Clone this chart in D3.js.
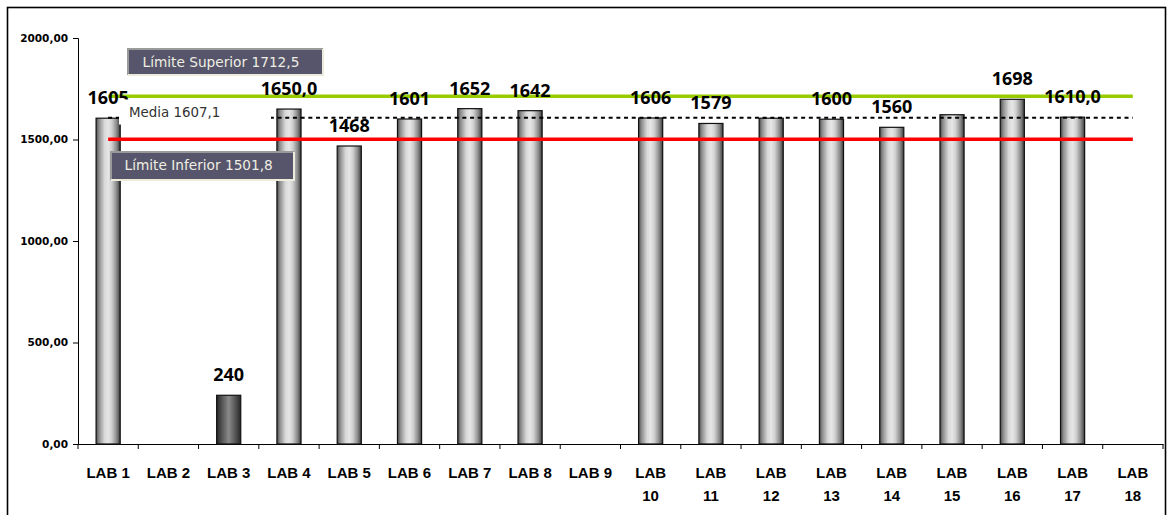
<!DOCTYPE html>
<html>
<head>
<meta charset="utf-8">
<script src="https://cdn.jsdelivr.net/npm/d3@7"></script>
<style>
  html, body { margin: 0; padding: 0; background: #fff; }
  svg { display: block; }
</style>
</head>
<body>
<svg id="chart" width="1173" height="515"></svg>
<script>
// Laboratory results with reference limits
const categories = ["LAB 1", "LAB 2", "LAB 3", "LAB 4", "LAB 5", "LAB 6", "LAB 7", "LAB 8", "LAB 9",
  "LAB 10", "LAB 11", "LAB 12", "LAB 13", "LAB 14", "LAB 15", "LAB 16", "LAB 17", "LAB 18"];
const values = [1605, null, 240, 1650, 1468, 1601, 1652, 1642, null,
  1606, 1579, 1605, 1600, 1560, 1622, 1698, 1610, null];
const valueLabels = ["1605", null, "240", "1650,0", "1468", "1601", "1652", "1642", null,
  "1606", "1579", null, "1600", "1560", null, "1698", "1610,0", null];
const outlierLabs = ["LAB 3"];

const upperLimit = 1712.5;
const lowerLimit = 1501.8;
const mean = 1607.1;
const upperText = ["Límite Superior 1712,5"];
const lowerText = ["Límite Inferior 1501,8"];
const meanText = ["Media 1607,1"];

const yTicks = [0, 500, 1000, 1500, 2000];
const yDomain = [0, 2000];

const svg = d3.select("#chart");

// outer frame
svg.append("rect")
  .attr("x", 7.5).attr("y", 7.5)
  .attr("width", 1158).attr("height", 520)
  .attr("fill", "none").attr("stroke", "#000").attr("stroke-width", 1.6);

const x = d3.scaleBand().domain(categories).range([78, 1163]).paddingInner(0).paddingOuter(0);
const y = d3.scaleLinear().domain(yDomain).range([444, 38]);

const loc = d3.formatLocale({ decimal: ",", thousands: "", grouping: [3], currency: ["", ""] });
const fmt = loc.format(".2f");

// gradients for the cylinders
const defs = svg.append("defs");
function grad(id, stops) {
  const g = defs.append("linearGradient").attr("id", id)
    .attr("x1", "0%").attr("x2", "100%").attr("y1", "0%").attr("y2", "0%");
  stops.forEach(s => g.append("stop").attr("offset", s[0]).attr("stop-color", s[1]));
}
grad("barLight", [[0, "#4a4a4a"], [0.12, "#8c8c8c"], [0.35, "#d8d8d8"], [0.5, "#e6e6e6"],
  [0.65, "#d0d0d0"], [0.85, "#8a8a8a"], [1, "#3c3c3c"]]);
grad("barDark", [[0, "#262626"], [0.2, "#505050"], [0.5, "#8a8a8a"], [0.8, "#505050"], [1, "#262626"]]);

// y axis
const yAxis = d3.axisLeft(y).tickValues(yTicks).tickSize(5).tickPadding(5).tickFormat(d => fmt(d));
const gy = svg.append("g").attr("transform", "translate(78,0)").call(yAxis);
gy.select(".domain").attr("stroke", "#000");
gy.selectAll(".tick line").attr("stroke", "#000");
gy.selectAll(".tick text")
  .attr("font-family", "DejaVu Sans").attr("font-weight", "bold")
  .attr("font-size", "10.5px").attr("fill", "#000");

// x axis
const xAxis = d3.axisBottom(x).tickSize(0).tickPadding(0).tickFormat("");
const gx = svg.append("g").attr("transform", "translate(0,444)").call(xAxis);
gx.select(".domain").attr("stroke", "#000");
const boundaries = categories.map(c => x(c)).concat([x.range()[1]]);
gx.selectAll(".bound").data(boundaries).join("line")
  .attr("class", "bound")
  .attr("x1", d => d).attr("x2", d => d)
  .attr("y1", 0).attr("y2", 5)
  .attr("stroke", "#000");

// category labels, wrapped when too long for one line
const catG = svg.append("g");
categories.forEach(c => {
  const cx = x(c) + x.bandwidth() / 2;
  const lines = c.length > 5 ? c.split(" ") : [c];
  const t = catG.append("text")
    .attr("x", cx).attr("y", 478)
    .attr("text-anchor", "middle")
    .attr("font-family", "Liberation Sans, Arial, sans-serif")
    .attr("font-weight", "bold").attr("font-size", "15px").attr("fill", "#000");
  lines.forEach((ln, i) => {
    t.append("tspan").attr("x", cx).attr("dy", i === 0 ? 0 : 23).text(ln);
  });
});

// bars
const barW = x.bandwidth() * 0.4;
const barData = categories.map((c, i) => ({ c, v: values[i], label: valueLabels[i] }))
  .filter(d => d.v != null);

svg.append("g").selectAll("rect").data(barData).join("rect")
  .attr("x", d => x(d.c) + x.bandwidth() / 2 - barW / 2)
  .attr("y", d => y(d.v))
  .attr("width", barW)
  .attr("height", d => y(0) - y(d.v))
  .attr("fill", d => outlierLabs.includes(d.c) ? "url(#barDark)" : "url(#barLight)")
  .attr("stroke", "#111").attr("stroke-width", 1.2);

// reference lines from the first to the last category
const xStart = x(categories[0]) + x.bandwidth() / 2;
const xEnd = x(categories[categories.length - 1]) + x.bandwidth() / 2;

svg.append("line")
  .attr("x1", xStart).attr("x2", xEnd)
  .attr("y1", y(mean)).attr("y2", y(mean))
  .attr("stroke", "#000").attr("stroke-width", 2).attr("stroke-dasharray", "4,3.7");

svg.append("line")
  .attr("x1", xStart).attr("x2", xEnd)
  .attr("y1", y(upperLimit)).attr("y2", y(upperLimit))
  .attr("stroke", "#99cc00").attr("stroke-width", 3.5);

svg.append("line")
  .attr("x1", xStart).attr("x2", xEnd)
  .attr("y1", y(lowerLimit)).attr("y2", y(lowerLimit))
  .attr("stroke", "#ff0000").attr("stroke-width", 3.5);

// value labels
svg.append("g").selectAll("text").data(barData.filter(d => d.label)).join("text")
  .attr("x", d => x(d.c) + x.bandwidth() / 2)
  .attr("y", d => y(d.v) - 14)
  .attr("text-anchor", "middle")
  .attr("font-family", "Open Sans, sans-serif")
  .attr("font-weight", "bold").attr("font-size", "18px").attr("fill", "#000")
  .text(d => d.label);

// mean caption on a white panel
svg.append("rect")
  .attr("x", 119).attr("y", 99.5).attr("width", 152).attr("height", 25)
  .attr("fill", "#fff");
svg.append("text")
  .attr("x", 129).attr("y", 117)
  .attr("font-family", "DejaVu Sans").attr("font-size", "13.4px").attr("fill", "#333")
  .text(meanText[0]);

// limit captions
function captionBox(bx, by, bw, bh, tx, ty, label) {
  const g = svg.append("g");
  g.append("rect").attr("x", bx).attr("y", by).attr("width", bw).attr("height", bh)
    .attr("fill", "#56556b");
  g.append("path")
    .attr("d", `M${bx},${by + bh} L${bx},${by} L${bx + bw},${by}`)
    .attr("fill", "none").attr("stroke", "#9a9a9a").attr("stroke-width", 2);
  g.append("path")
    .attr("d", `M${bx + bw},${by} L${bx + bw},${by + bh} L${bx},${by + bh}`)
    .attr("fill", "none").attr("stroke", "#ecebdc").attr("stroke-width", 2);
  g.append("text").attr("x", tx).attr("y", ty)
    .attr("font-family", "DejaVu Sans").attr("font-size", "13.7px").attr("fill", "#efeee2")
    .text(label);
}
captionBox(128, 49, 195, 26, 142.5, 66.5, upperText[0]);
captionBox(111, 152, 183, 28, 124.5, 170, lowerText[0]);
</script>
</body>
</html>
